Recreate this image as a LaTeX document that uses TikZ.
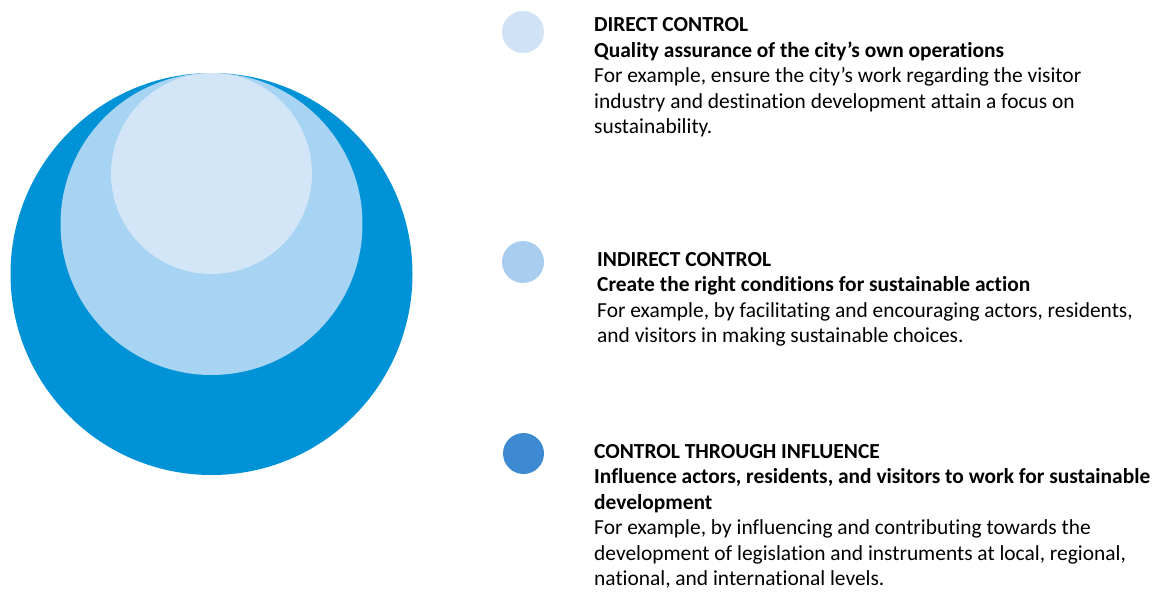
\documentclass[tikz,border=0pt]{standalone}
\usepackage{fontspec}
\setmainfont{Carlito}[Ligatures=NoCommon]
\definecolor{ringdark}{HTML}{0092D6}
\definecolor{ringmid}{HTML}{A6D4F2}
\definecolor{ringlight}{HTML}{D2E6F8}
\definecolor{dotlight}{HTML}{D0E2F5}
\definecolor{dotmid}{HTML}{A8CDEE}
\definecolor{dotdark}{HTML}{3D8AD2}
% type size: the longest bold line spans 556 units
\newlength\reflen
\settowidth\reflen{\fontsize{10}{12}\selectfont\bfseries Influence actors, residents, and visitors to work for sustainable}
\pgfmathsetmacro\bodysize{10*556/\reflen}
\def\lead{25.5}
\tikzset{
  disc/.style={circle, inner sep=0pt, minimum size=#1},
  line/.style={anchor=base west, inner sep=0pt, font=\fontsize{\bodysize}{\bodysize}\selectfont},
  head/.style={line, font=\fontsize{\bodysize}{\bodysize}\selectfont\bfseries},
}
\begin{document}
\begin{tikzpicture}[x=1pt, y=-1pt]
\useasboundingbox (0,0) rectangle (1153,592);
% nested circles, all touching at the top
\node[disc=402, fill=ringdark] (outer) at (211.5,274) {};
\node[disc=302, fill=ringmid] (middle) at (211.5,224) {};
\node[disc=201, fill=ringlight] (inner) at (211.5,173.5) {};
% legend dots
\node[disc=42, fill=dotlight] (d1) at (523,32) {};
\node[disc=42, fill=dotmid] (d2) at (523,262) {};
\node[disc=41, fill=dotdark] (d3) at (523.5,453.5) {};
% direct control
\node[head] (a1) at (594,31.5) {DIRECT CONTROL};
\node[head] (a2) at (594,31.5+\lead) {Quality assurance of the city’s own operations};
\node[line] (a3) at (594,31.5+2*\lead) {For example, ensure the city’s work regarding the visitor};
\node[line] (a4) at (594,31.5+3*\lead) {industry and destination development attain a focus on};
\node[line] (a5) at (594,31.5+4*\lead) {sustainability.};
% indirect control
\node[head] (b1) at (597,266) {INDIRECT CONTROL};
\node[head] (b2) at (597,266+\lead) {Create the right conditions for sustainable action};
\node[line] (b3) at (597,266+2*\lead) {For example, by facilitating and encouraging actors, residents,};
\node[line] (b4) at (597,266+3*\lead) {and visitors in making sustainable choices.};
% control through influence
\node[head] (c1) at (594,458) {CONTROL THROUGH INFLUENCE};
\node[head] (c2) at (594,458+\lead) {Influence actors, residents, and visitors to work for sustainable};
\node[head] (c3) at (594,458+2*\lead) {development};
\node[line] (c4) at (594,458+3*\lead) {For example, by influencing and contributing towards the};
\node[line] (c5) at (594,458+4*\lead) {development of legislation and instruments at local, regional,};
\node[line] (c6) at (594,458+5*\lead) {national, and international levels.};
\end{tikzpicture}
\end{document}
